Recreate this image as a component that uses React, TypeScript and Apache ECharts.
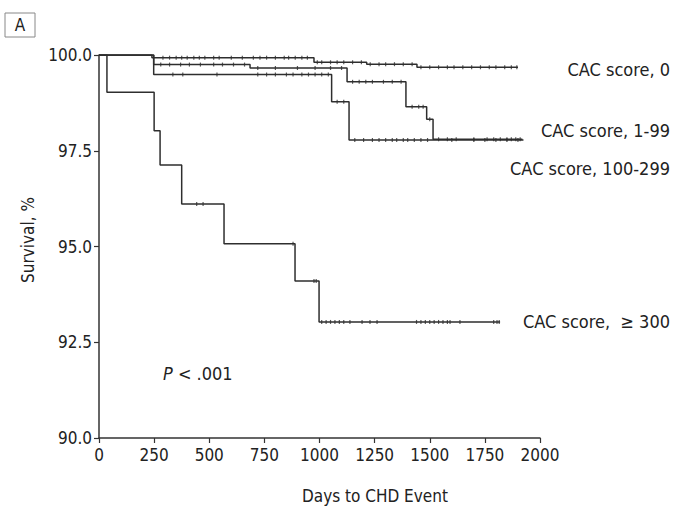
import React, { useEffect, useRef } from "react";
import * as echarts from "echarts";

const FONT = "'Liberation Sans Narrow', 'DejaVu Sans Condensed', 'Roboto', sans-serif";

const seriesLabels = ["CAC score, 0", "CAC score, 1-99", "CAC score, 100-299", "CAC score,  \u2265 300"];

// Kaplan-Meier step curves: [days, survival %]
const cac0Curve: [number, number][] = [[0, 100], [240, 99.93], [975, 99.81], [1214, 99.76], [1442, 99.68], [1900, 99.68]];
const cac1to99Curve: [number, number][] = [[0, 100], [248, 99.75], [685, 99.66], [1125, 99.3], [1392, 98.65], [1486, 98.32], [1515, 97.8], [1920, 97.8]];
const cac100to299Curve: [number, number][] = [[0, 100], [248, 99.49], [1055, 98.78], [1134, 97.78], [1925, 97.78]];
const cac300Curve: [number, number][] = [[0, 100], [36, 99.03], [250, 98.02], [277, 97.13], [375, 96.11], [567, 95.07], [889, 94.1], [998, 93.03], [1819, 93.03]];

// censoring times (days)
const cac0Censor = [290, 320, 350, 375, 400, 430, 455, 480, 520, 545, 600, 650, 700, 730, 760, 800, 840, 860, 890, 920, 945, 990, 1010, 1050, 1080, 1110, 1150, 1190, 1230, 1270, 1300, 1340, 1380, 1420, 1460, 1500, 1540, 1580, 1610, 1650, 1690, 1730, 1770, 1800, 1840, 1870, 1895];
const cac1to99Censor = [280, 320, 370, 410, 460, 520, 560, 610, 660, 720, 800, 900, 980, 1050, 1100, 1150, 1180, 1210, 1240, 1290, 1330, 1370, 1420, 1450, 1470, 1500, 1540, 1580, 1620, 1700, 1760, 1790, 1820, 1850, 1870, 1890, 1910];
const cac100to299Censor = [335, 380, 535, 720, 760, 800, 850, 880, 920, 950, 980, 1010, 1040, 1080, 1110, 1160, 1200, 1240, 1270, 1300, 1330, 1350, 1380, 1400, 1430, 1460, 1490, 1600, 1700, 1750, 1800, 1850, 1900];
const cac300Censor = [443, 472, 880, 975, 985, 1010, 1030, 1050, 1070, 1090, 1110, 1138, 1193, 1229, 1261, 1440, 1460, 1480, 1500, 1520, 1540, 1560, 1580, 1592, 1637, 1790, 1805, 1815];

const xMin = 0, xMax = 2000, xInterval = 250;
const yMin = 90, yMax = 100, yInterval = 2.5;

const pValueText = "{i|P} < .001";
const xAxisTitle = "Days to CHD Event";
const yAxisTitle = "Survival, %";
const panelLetter = "A";

function survivalAt(curve: [number, number][], t: number): number {
  let v = curve[0][1];
  for (const [d, s] of curve) {
    if (d <= t) v = s;
    else break;
  }
  return v;
}

const LINE = "#2e2e2e";

export default function App() {
  const ref = useRef<HTMLDivElement>(null);
  useEffect(() => {
    if (!ref.current) return;
    const chart = echarts.init(ref.current, null, { renderer: "svg" });
    const curves = [cac0Curve, cac1to99Curve, cac100to299Curve, cac300Curve];
    const censors = [cac0Censor, cac1to99Censor, cac100to299Censor, cac300Censor];
    const lineSeries = curves.map((c, i) => ({
      type: "line",
      name: seriesLabels[i],
      data: c,
      step: "end",
      showSymbol: false,
      symbol: "none",
      lineStyle: { color: LINE, width: 1.5 },
      z: 2,
    }));
    const censorSeries = censors.map((cs, i) => ({
      type: "scatter",
      name: seriesLabels[i] + " censored",
      data: cs.map((t) => [t, survivalAt(curves[i], t)]),
      symbol: "rect",
      symbolSize: [1.2, 4],
      itemStyle: { color: LINE },
      z: 3,
    }));
    const labelY = [69, 130, 168, 321];
    chart.setOption({
      animation: false,
      grid: { left: 99, right: 137, top: 55, bottom: 70 },
      xAxis: {
        type: "value",
        min: xMin,
        max: xMax,
        interval: xInterval,
        axisLine: { show: true, lineStyle: { color: "#333", width: 1.5 } },
        axisTick: { show: true, length: 5, lineStyle: { color: "#333", width: 1.2 } },
        axisLabel: { color: "#222", fontSize: 17, fontFamily: FONT, margin: 8, formatter: (v: number) => String(v) },
        splitLine: { show: false },
      },
      yAxis: {
        type: "value",
        min: yMin,
        max: yMax,
        interval: yInterval,
        axisLine: { show: true, lineStyle: { color: "#333", width: 1.5 } },
        axisTick: { show: true, length: 5, lineStyle: { color: "#333", width: 1.2 } },
        axisLabel: { color: "#222", fontSize: 17, fontFamily: FONT, margin: 7, formatter: (v: number) => v.toFixed(1) },
        splitLine: { show: false },
      },
      series: [...lineSeries, ...censorSeries],
      graphic: [
        { type: "rect", shape: { x: 5, y: 13, width: 30, height: 24 }, style: { fill: "none", stroke: "#888", lineWidth: 1 } },
        { type: "text", x: 20, y: 25, style: { text: panelLetter, fontSize: 17, fontFamily: FONT, fill: "#222", align: "center", verticalAlign: "middle" } },
        ...seriesLabels.map((t, i) => ({
          type: "text", x: 670, y: labelY[i],
          style: { text: t, fontSize: 18, fontFamily: FONT, fill: "#222", align: "right", verticalAlign: "middle" },
        })),
        {
          type: "text", x: 163, y: 373,
          style: {
            text: pValueText, fontSize: 18, fontFamily: FONT, fill: "#222", align: "left", verticalAlign: "middle",
            rich: { i: { fontStyle: "italic", fontSize: 18, fontFamily: FONT, fill: "#222" } },
          },
        },
        { type: "text", x: 375, y: 496, style: { text: xAxisTitle, fontSize: 17, fontFamily: FONT, fill: "#222", align: "center", verticalAlign: "middle" } },
        { type: "text", x: 28, y: 240, rotation: Math.PI / 2, style: { text: yAxisTitle, fontSize: 17, fontFamily: FONT, fill: "#222", align: "center", verticalAlign: "middle" } },
      ],
    });
    return () => chart.dispose();
  }, []);
  return <div ref={ref} style={{ position: "fixed", left: 0, top: 0, width: 677, height: 508, background: "#fff" }} />;
}
